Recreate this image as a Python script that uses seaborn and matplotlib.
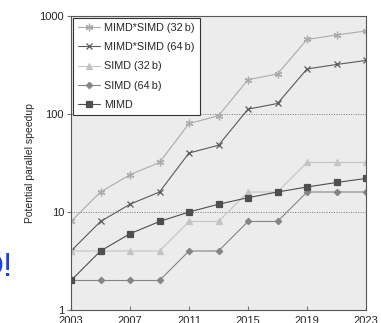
import numpy as np
import pandas as pd
import matplotlib
matplotlib.use('Agg')
import matplotlib.pyplot as plt
import seaborn as sns

years = [2003, 2005, 2007, 2009, 2011, 2013, 2015, 2017, 2019, 2021, 2023]
mimd_simd_32 = [8, 16, 24, 32, 80, 96, 224, 256, 576, 640, 704]
mimd_simd_64 = [4, 8, 12, 16, 40, 48, 112, 128, 288, 320, 352]
simd_32 = [4, 4, 4, 4, 8, 8, 16, 16, 32, 32, 32]
simd_64 = [2, 2, 2, 2, 4, 4, 8, 8, 16, 16, 16]
mimd = [2, 4, 6, 8, 10, 12, 14, 16, 18, 20, 22]

series_names = ['MIMD*SIMD (32\u2009b)', 'MIMD*SIMD (64\u2009b)', 'SIMD (32\u2009b)',
                'SIMD (64\u2009b)', 'MIMD']
series_values = [mimd_simd_32, mimd_simd_64, simd_32, simd_64, mimd]
colors = ['#ababab', '#5a5a5a', '#c4c4c4', '#858585', '#4f4f4f']
markers = [(6, 2, 0), 'x', '^', 'D', 's']
msizes = [5.5, 5, 4.5, 3.2, 4.5]

sns.set_style('ticks')
plt.rcParams['font.family'] = ['Liberation Sans', 'DejaVu Sans']

fig = plt.figure(figsize=(3.81, 3.23), dpi=100)
ax = fig.add_axes([71 / 381, 13 / 323, 295 / 381, 294 / 323])
ax.set_facecolor('#ececec')

for name, vals, c, m, ms in zip(series_names, series_values, colors, markers, msizes):
    df = pd.DataFrame({'year': years, 'speedup': vals})
    sns.lineplot(data=df, x='year', y='speedup', ax=ax, color=c, marker=m,
                 markersize=ms, markeredgecolor=c, markerfacecolor=c,
                 markeredgewidth=0.9, linewidth=0.8, label=name)

ax.set_yscale('log')
ax.set_ylim(1, 1000)
ax.set_xlim(2003, 2023)
ax.set_xticks([2003, 2007, 2011, 2015, 2019, 2023])
ax.set_yticks([1, 10, 100, 1000])
ax.set_yticklabels(['1', '10', '100', '1000'])
ax.minorticks_off()
ax.tick_params(axis='x', direction='in', length=3, labelsize=8, pad=4, color='#777777')
ax.tick_params(axis='y', direction='out', length=3, labelsize=8, pad=2, color='#777777')
for y in [10, 100]:
    ax.axhline(y, color='#777777', linestyle=(0, (1, 1.5)), linewidth=0.7, zorder=0)
for s in ax.spines.values():
    s.set_color('#555555')
    s.set_linewidth(0.8)
ax.set_xlabel('')
ax.set_ylabel('Potential parallel speedup', fontsize=7.5, labelpad=3)

leg = ax.legend(loc='upper left', fontsize=7.8, frameon=True, fancybox=False,
                edgecolor='#333333', framealpha=1, borderpad=0.5,
                handlelength=2.0, handletextpad=0.4, labelspacing=0.85,
                borderaxespad=0.15)
leg.get_frame().set_linewidth(0.8)

fig.text(13 / 381, 1 - 268 / 323, 'O!', color='#1f3fe0', fontsize=24,
         ha='right', va='center')

fig.savefig('out.png', dpi=100)
